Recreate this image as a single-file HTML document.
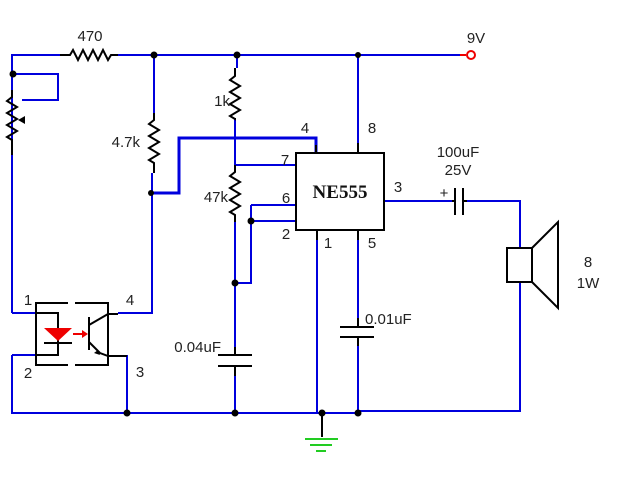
<!DOCTYPE html>
<html><head><meta charset="utf-8"><style>body{margin:0;background:#fff}svg{display:block}text{font-family:"Liberation Sans",sans-serif;font-size:15px;fill:#222}</style></head><body>
<svg width="640" height="480" viewBox="0 0 640 480">
<g fill="none" stroke-linejoin="miter">
<g stroke="#0000dd" stroke-width="2">
<path d="M12 313V55H60M118 55H460"/>
<path d="M13 74H58V100H22"/>
<path d="M154 55V113M152 173V313H118"/>
<path d="M237 55V68M235 118V165H296M235 222V355M235 366V413"/>
<path d="M251 205H296M251 221H296M251 205V283H235"/>
<path d="M358 55V153"/>
<path d="M384 201H452M467 201H520V248M520 282V411H358"/>
<path d="M317 230V413M358 230V327M358 337V413"/>
<path d="M12 355H36M12 355V413H358M127 355V413"/>
<path d="M12 313H36"/>
</g>
<path d="M151 193H179V138H316V153" stroke="#0000dd" stroke-width="3"/>
<path d="M460 55H466" stroke="#e00" stroke-width="2"/>
<circle cx="471" cy="55" r="4" stroke="#e00" stroke-width="2"/>
<g stroke="#000" stroke-width="2">
<path d="M60 55H70l3 -5 5 10 5 -10 5 10 5 -10 5 10 5 -10 5 10 3 -5H118"/>
<path d="M12 90V97l-5 4 10 6 -10 6 10 6 -10 6 10 6 -10 6 5 3V155"/>
<path d="M154 113V120l-5 4 10 6 -10 6 10 6 -10 6 10 6 -10 6 5 3V173"/>
<path d="M235 68V76l-5 4 10 6 -10 6 10 6 -10 6 10 6 -10 6 5 3V118"/>
<path d="M235 165V172l-5 4 10 6 -10 6 10 6 -10 6 10 6 -10 6 5 3V222"/>
<rect x="296" y="153" width="88" height="77"/>
<path d="M317 230V240M358 230V240M358 143V153M316 145V153"/>
<path d="M455 188V215M463 188V215M452 201H455M463 201H467"/>
<path d="M358 318V327M340 327H374M340 337H374M358 337V346"/>
<path d="M235 347V355M218 355H252M218 366H252M235 366V376"/>
<rect x="507" y="248" width="25" height="34"/>
<path d="M532 248L558 222V308L532 282"/>
<path d="M322 413V437"/>
<path d="M68 303H36V365H68M75 303H108V365H75"/>
<path d="M36 313H58V355H36"/>
<path d="M44 343H72"/>
<path d="M89 317V350M89 325L108 314H118M89 342L100 353L108 356H127"/>
</g>
<path d="M44 328H72L58 341Z" fill="#e00"/>
<path d="M73 334H83" stroke="#e00" stroke-width="2"/>
<path d="M82 330L88 334L82 338Z" fill="#e00"/>
<path d="M98 350L100 355L94 353Z" fill="#000"/>
<path d="M18 120l7 -4v8Z" fill="#000"/>
<g stroke="#22cc22" stroke-width="2"><path d="M305 439H338M310 445H332M316 451H326"/></g>
</g>
<g fill="#000">
<circle cx="154" cy="55" r="3.5"/><circle cx="237" cy="55" r="3.5"/><circle cx="358" cy="55" r="3"/>
<circle cx="13" cy="74" r="3.5"/><circle cx="151" cy="193" r="3"/><circle cx="251" cy="221" r="3.5"/>
<circle cx="235" cy="283" r="3.5"/><circle cx="127" cy="413" r="3.5"/><circle cx="235" cy="413" r="3.5"/>
<circle cx="322" cy="413" r="3.5"/><circle cx="358" cy="413" r="3.5"/>
</g>
<text x="90" y="41" text-anchor="middle">470</text>
<text x="476" y="43" text-anchor="middle">9V</text>
<text x="230" y="106" text-anchor="end">1k</text>
<text x="140" y="147" text-anchor="end">4.7k</text>
<text x="228" y="202" text-anchor="end">47k</text>
<text x="221" y="352" text-anchor="end">0.04uF</text>
<text x="365" y="324">0.01uF</text>
<text x="458" y="157" text-anchor="middle">100uF</text>
<text x="458" y="175" text-anchor="middle">25V</text>
<text x="588" y="267" text-anchor="middle">8</text>
<text x="588" y="288" text-anchor="middle">1W</text>
<text x="28" y="305" text-anchor="middle" font-size="14">1</text>
<text x="130" y="305" text-anchor="middle" font-size="14">4</text>
<text x="28" y="378" text-anchor="middle" font-size="14">2</text>
<text x="140" y="377" text-anchor="middle" font-size="14">3</text>
<text x="305" y="133" text-anchor="middle" font-size="14">4</text>
<text x="372" y="133" text-anchor="middle" font-size="14">8</text>
<text x="285" y="165" text-anchor="middle" font-size="14">7</text>
<text x="286" y="203" text-anchor="middle" font-size="14">6</text>
<text x="286" y="239" text-anchor="middle" font-size="14">2</text>
<text x="398" y="192" text-anchor="middle" font-size="14">3</text>
<text x="328" y="248" text-anchor="middle" font-size="14">1</text>
<text x="372" y="248" text-anchor="middle" font-size="14">5</text>
<text x="444" y="198" text-anchor="middle" font-size="11">+</text>
<text x="340" y="198" text-anchor="middle" style="font-family:'Liberation Serif',serif;font-weight:bold;font-size:19px;fill:#111">NE555</text>
</svg>
</body></html>
